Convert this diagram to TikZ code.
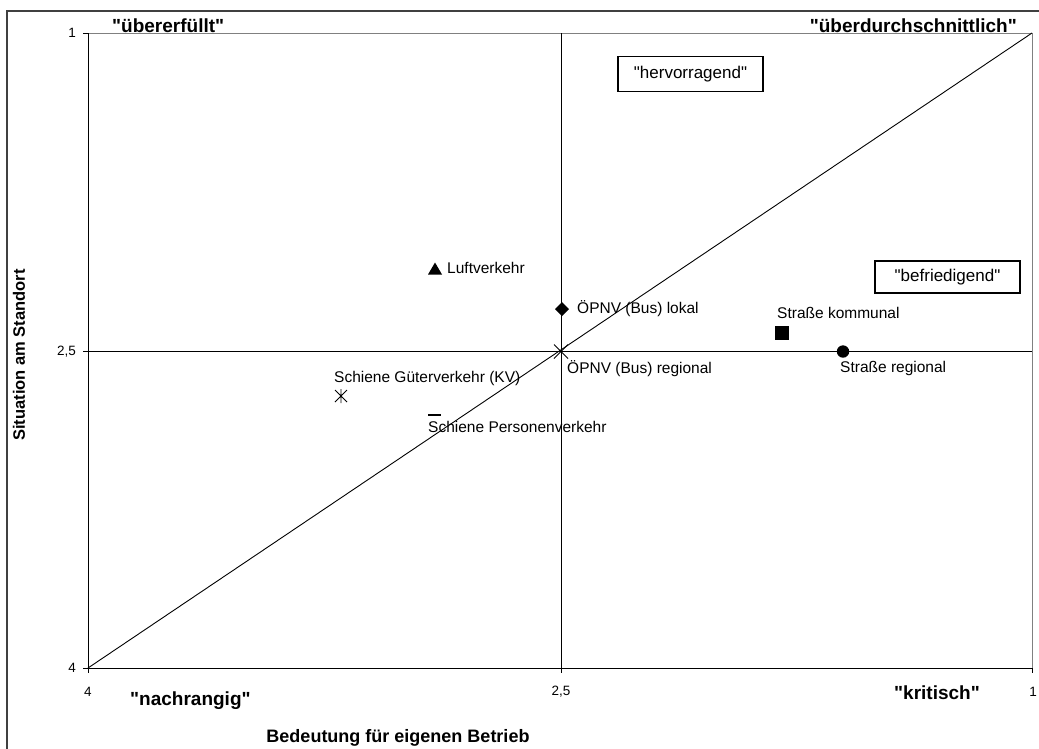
\documentclass[tikz,border=0pt]{standalone}
\usepackage{fontspec}
\setmainfont{Liberation Sans}[Ligatures=TeXOff]
\begin{document}
\begin{tikzpicture}[x=1pt,y=-1pt,
  lbl/.style={font=\fontsize{15.5}{18}\selectfont, inner sep=0pt},
  tick/.style={font=\fontsize{13.5}{15}\selectfont, inner sep=0pt},
  hdr/.style={font=\fontsize{19}{22}\selectfont\bfseries, inner sep=0pt, anchor=base west},
  ttl/.style={font=\fontsize{16.5}{19}\selectfont\bfseries, inner sep=0pt},
  qbox/.style={draw, line width=1.2pt, font=\fontsize{17}{20}\selectfont, minimum width=145pt, minimum height=35pt, inner sep=0pt},
  mk/.style={fill=black, draw=none},
  ax/.style={line width=0.9pt},
  gr/.style={line width=0.9pt, draw=gray}]
\useasboundingbox (0,0) rectangle (1039,748);
% outer frame
\coordinate (fb) at (7,760);
\coordinate (fc) at (7,11);
\coordinate (fr) at (1045,11);
\draw[line width=2pt, draw=black!75] (fb) -- (fc) -- (fr);
% plot area corners
\coordinate (ll) at (88,668);
\coordinate (ul) at (88,33);
\coordinate (ur) at (1032,33);
\coordinate (lr) at (1032,668);
\coordinate (cx) at (561,351.5);
\coordinate (mt) at (561,33);
\coordinate (mb) at (561,668);
\coordinate (ml) at (88,351.5);
\coordinate (mr) at (1032,351.5);
\draw[gr] (ul) -- (ur) -- (lr);
\draw[ax] (ul) -- (ll) -- (lr);
\draw[ax] (mt) -- (mb);
\draw[ax] (ml) -- (mr);
\draw[ax] (ll) -- (ur);
% ticks
\foreach \y in {33,351.5,668} \draw[ax] (83,\y) -- (88,\y);
\foreach \x in {88,561,1032} \draw[ax] (\x,668) -- (\x,673);
\node[tick, anchor=east] (y1) at (76,33) {1};
\node[tick, anchor=east] (y2) at (76,351.5) {2,5};
\node[tick, anchor=east] (y4) at (76,668) {4};
\node[tick] (x4) at (88,692) {4};
\node[tick] (x2) at (561,692) {2,5};
\node[tick] (x1) at (1033,692) {1};
% headers
\node[hdr] (h1) at (112,32) {"übererfüllt"};
\node[hdr, anchor=base east] (h2) at (1017,32) {"überdurchschnittlich"};
\node[hdr] (h3) at (130,705) {"nachrangig"};
\node[hdr, anchor=base east] (h4) at (980,699) {"kritisch"};
% axis titles
\node[ttl, font=\fontsize{18}{20}\selectfont\bfseries] (tx) at (398,738) {Bedeutung für eigenen Betrieb};
\node[ttl, rotate=90] (ty) at (19,355) {Situation am Standort};
% quadrant boxes
\node[qbox] (hv) at (690.5,74) {"hervorragend"};
\node[qbox, minimum height=32pt] (bf) at (947.5,277) {"befriedigend"};
% markers
\fill[mk] (428,274.5) -- (442,274.5) -- (435,262.5) -- cycle;
\node[inner sep=0pt, minimum size=0pt] (luft) at (435,269) {};
\node[lbl, anchor=west] (luftl) at (447,268) {Luftverkehr};
\fill[mk] (562,302) -- (569,309) -- (562,316) -- (555,309) -- cycle;
\node[inner sep=0pt] (lok) at (562,309) {};
\node[lbl, anchor=west] (lokl) at (577,309) {ÖPNV (Bus) lokal};
\draw[line width=0.9pt] (554,344.5) -- (568,358.5) (554,358.5) -- (568,344.5);
\node[inner sep=0pt] (reg) at (561,351.5) {};
\node[lbl, anchor=west] (regl) at (567,369) {ÖPNV (Bus) regional};
\draw[line width=0.9pt] (335,390) -- (347,402) (335,402) -- (347,390) (341,389) -- (341,403);
\node[inner sep=0pt] (gv) at (341,396) {};
\node[lbl, anchor=west] (gvl) at (334,378) {Schiene Güterverkehr (KV)};
\fill[mk] (428,413.5) rectangle (441,416);
\node[inner sep=0pt] (pv) at (434.5,415) {};
\node[lbl, anchor=west] (pvl) at (428,427) {Schiene Personenverkehr};
\fill[mk] (775,326) rectangle (789,340);
\node[inner sep=0pt] (sk) at (782,333) {};
\node[lbl, anchor=west] (skl) at (777,313) {Straße kommunal};
\fill[mk] (843,351.5) circle (6.2);
\node[inner sep=0pt] (sr) at (843,351.5) {};
\node[lbl, anchor=west] (srl) at (840,368) {Straße regional};
\end{tikzpicture}
\end{document}
